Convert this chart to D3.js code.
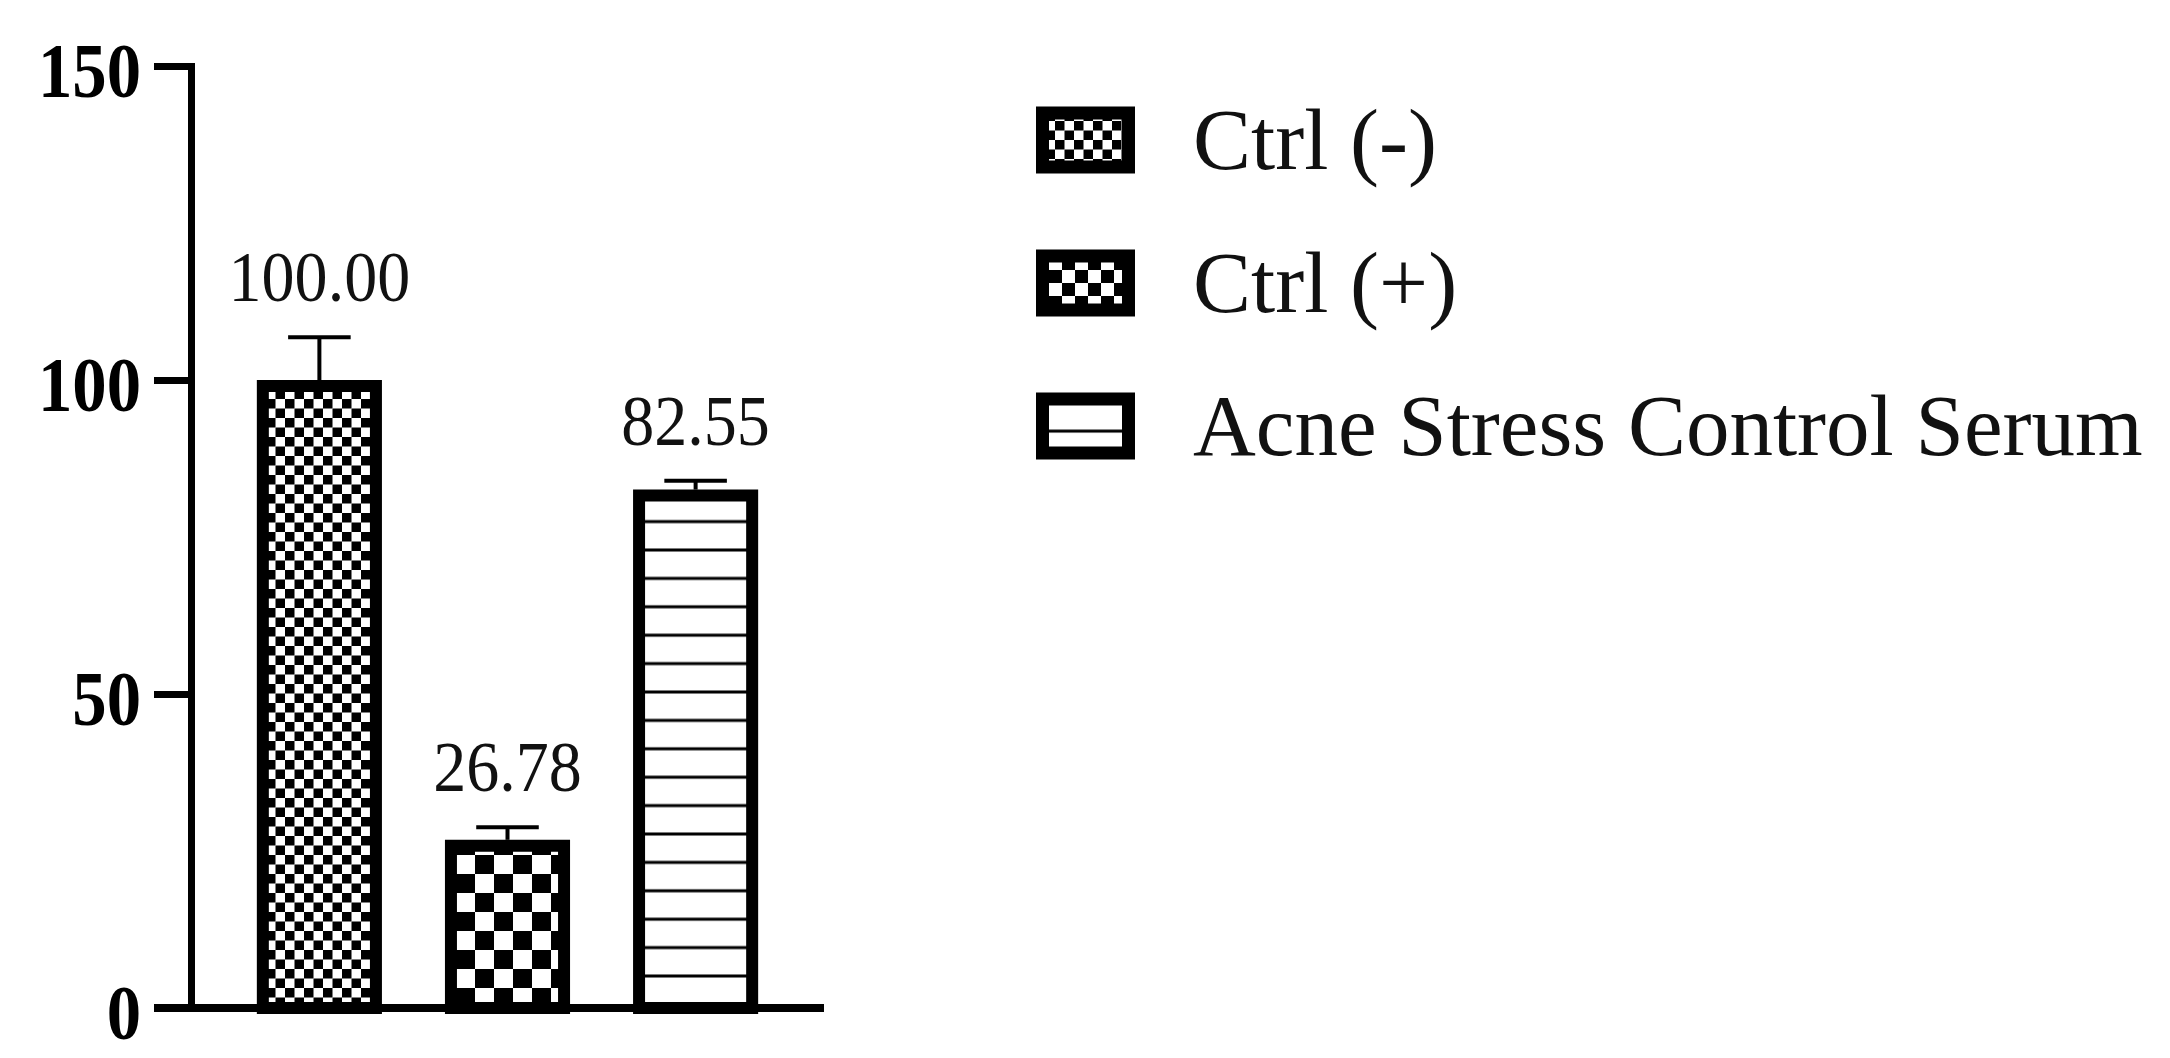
<!DOCTYPE html>
<html>
<head>
<meta charset="utf-8">
<script src="https://cdn.jsdelivr.net/npm/d3@7"></script>
<style>
  body { margin: 0; background: #fff; }
  svg { display: block; }
</style>
</head>
<body>
<div id="chart"></div>
<script>
const groups = ["Ctrl (-)", "Ctrl (+)", "Acne Stress Control Serum"];
const means = [100.00, 26.78, 82.55];
const errors = [6.8, 2.0, 1.4];
const yTicks = [0, 50, 100, 150];
const fills = ["fine", "coarse", "lines"];

const W = 2170, H = 1058;
const serif = "'Liberation Serif', 'Times New Roman', serif";

const svg = d3.select("#chart").append("svg")
  .attr("width", W)
  .attr("height", H);

const defs = svg.append("defs");

function checker(id, cell) {
  const p = defs.append("pattern")
    .attr("id", id)
    .attr("patternUnits", "userSpaceOnUse")
    .attr("width", cell * 2)
    .attr("height", cell * 2);
  p.append("rect").attr("width", cell * 2).attr("height", cell * 2).attr("fill", "#fff");
  p.append("rect").attr("width", cell).attr("height", cell).attr("fill", "#000");
  p.append("rect").attr("x", cell).attr("y", cell).attr("width", cell).attr("height", cell).attr("fill", "#000");
}
function lines(id, gap, offset) {
  const p = defs.append("pattern")
    .attr("id", id)
    .attr("patternUnits", "userSpaceOnUse")
    .attr("width", 20)
    .attr("height", gap)
    .attr("y", offset);
  p.append("rect").attr("width", 20).attr("height", gap).attr("fill", "#fff");
  p.append("rect").attr("y", -1.5).attr("width", 20).attr("height", 3).attr("fill", "#000");
  p.append("rect").attr("y", gap - 1.5).attr("width", 20).attr("height", 3).attr("fill", "#000");
}
checker("fine", 9.5);
checker("coarse", 19);
lines("lines", 28.4, 10.4);
checker("fine-leg", 9.5);
checker("coarse-leg", 13);
lines("lines-leg", 28.4, 5.1);

const y = d3.scaleLinear().domain([0, 150]).range([1008, 66]);
const x = d3.scaleBand().domain(groups).range([191, 824])
  .paddingInner(0.335).paddingOuter(0.35);

const tickLen = 37;

// y axis; labels are tall and narrow in the original, so squeeze them
const squeeze = 0.87;
const yAxis = svg.append("g")
  .attr("transform", `translate(${x.range()[0]},0)`)
  .call(d3.axisLeft(y).tickValues(yTicks).tickSize(tickLen).tickSizeOuter(tickLen));
yAxis.select(".domain").attr("stroke", "#000").attr("stroke-width", 7).attr("fill", "none");
yAxis.selectAll(".tick line").attr("stroke", "#000").attr("stroke-width", 7);
yAxis.selectAll(".tick text")
  .attr("font-family", serif)
  .attr("font-weight", "bold")
  .attr("font-size", "79px")
  .attr("fill", "#000")
  .attr("x", -(tickLen + 13) / squeeze)
  .attr("dy", "0.39em")
  .attr("transform", `scale(${squeeze},1)`);

// bars
const bw = x.bandwidth();
const sw = 12;
svg.selectAll(".bar")
  .data(groups)
  .enter()
  .append("path")
  .attr("class", "bar")
  .attr("d", (d, i) => {
    const l = x(d) + sw / 2, r = x(d) + bw - sw / 2, t = y(means[i]) + sw / 2;
    return `M${l},${y(0)}V${t}H${r}V${y(0)}Z`;
  })
  .attr("fill", (d, i) => `url(#${fills[i]})`)
  .attr("stroke", "#000")
  .attr("stroke-width", sw)
  .attr("stroke-linejoin", "miter");

// error bars
const err = svg.selectAll(".err")
  .data(groups)
  .enter()
  .append("g")
  .attr("class", "err")
  .attr("stroke", "#000")
  .attr("stroke-width", 4);
err.append("line")
  .attr("x1", d => x(d) + bw / 2)
  .attr("x2", d => x(d) + bw / 2)
  .attr("y1", (d, i) => y(means[i]))
  .attr("y2", (d, i) => y(means[i] + errors[i]));
err.append("line")
  .attr("x1", d => x(d) + bw * 0.25)
  .attr("x2", d => x(d) + bw * 0.75)
  .attr("y1", (d, i) => y(means[i] + errors[i]))
  .attr("y2", (d, i) => y(means[i] + errors[i]));

// x axis line
svg.append("line")
  .attr("x1", x.range()[0] - tickLen)
  .attr("x2", x.range()[1])
  .attr("y1", y(0))
  .attr("y2", y(0))
  .attr("stroke", "#000")
  .attr("stroke-width", 8);

// value labels
const vSq = 0.93;
svg.selectAll(".val")
  .data(groups)
  .enter()
  .append("text")
  .attr("class", "val")
  .attr("x", d => (x(d) + bw / 2) / vSq)
  .attr("y", (d, i) => y(means[i] + errors[i]) - 36)
  .attr("transform", `scale(${vSq},1)`)
  .attr("text-anchor", "middle")
  .attr("font-family", serif)
  .attr("font-size", "71px")
  .attr("fill", "#111")
  .text((d, i) => d3.format(".2f")(means[i]));

// legend
const legend = svg.selectAll(".legend")
  .data(groups)
  .enter()
  .append("g")
  .attr("class", "legend")
  .attr("transform", (d, i) => `translate(1036,${140 + i * 143})`);

const boxW = 99, boxH = 67, lsw = 13;
legend.append("rect")
  .attr("x", lsw / 2)
  .attr("y", -boxH / 2 + lsw / 2)
  .attr("width", boxW - lsw)
  .attr("height", boxH - lsw)
  .attr("fill", (d, i) => `url(#${fills[i]}-leg)`)
  .attr("stroke", "#000")
  .attr("stroke-width", lsw);

legend.append("text")
  .attr("x", 157)
  .attr("y", 29)
  .attr("font-family", serif)
  .attr("font-size", "87px")
  .attr("fill", "#111")
  .text(d => d);
</script>
</body>
</html>
